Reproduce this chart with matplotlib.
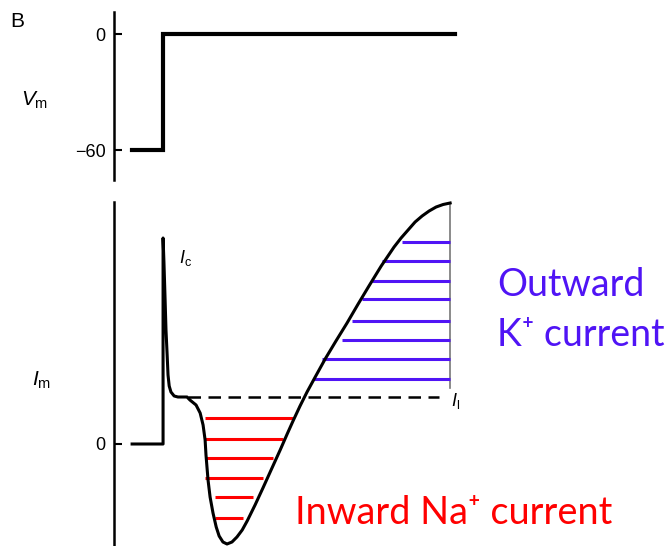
import matplotlib
matplotlib.use("Agg")
import matplotlib.pyplot as plt

plt.rcParams['font.family'] = ['Liberation Sans', 'DejaVu Sans']
plt.rcParams['mathtext.fontset'] = 'custom'
plt.rcParams['mathtext.rm'] = 'Liberation Sans'
plt.rcParams['mathtext.it'] = 'Liberation Sans:italic'

# voltage step (ms, mV)
v_time = [-1.06, 0.0, 0.0, 10.0]
v_mem = [-60, -60, 0, 0]

# membrane current (ms, arbitrary units)
i_time = [-1.06, 0.0, 0.0, 0.03, 0.07, 0.10, 0.14, 0.17, 0.21, 0.27, 0.38, 0.51,
          0.82, 0.92, 1.13, 1.27, 1.37, 1.44, 1.47, 1.54, 1.61, 1.71, 1.82, 1.92,
          2.05, 2.19, 2.36, 2.53, 2.71, 2.88, 3.15, 3.42, 3.73, 4.01, 4.25, 4.45,
          4.69, 4.93, 5.21, 5.55, 5.92, 6.30, 6.68, 7.05, 7.47, 7.91, 8.15, 8.39,
          8.63, 8.87, 9.11, 9.35, 9.59, 9.83]
i_mem = [0.0, 0.0, 20.6, 18.2, 14.4, 11.4, 8.9, 6.9, 5.8, 5.2, 4.8, 4.7,
         4.7, 4.4, 3.9, 3.1, 1.9, 0.4, -1.1, -3.6, -5.3, -6.9, -8.3, -9.2,
         -9.8, -10.0, -9.8, -9.3, -8.6, -7.7, -6.1, -4.4, -2.4, -0.6, 1.0, 2.3,
         3.8, 5.2, 6.7, 8.5, 10.3, 12.1, 14.0, 15.8, 17.8, 19.7, 20.6, 21.4,
         22.2, 22.8, 23.3, 23.7, 23.95, 24.1]

i_leak = 4.7
leak_start, leak_end = 0.85, 9.45

# inward Na+ hatching
na_level = [2.6, 0.5, -1.4, -3.4, -5.3, -7.4]
na_start = [1.44, 1.44, 1.44, 1.44, 1.78, 1.78]
na_end = [4.45, 4.11, 3.77, 3.42, 3.08, 2.74]

# outward K+ hatching
k_level = [20.2, 18.3, 16.3, 14.5, 12.3, 10.4, 8.5, 6.5]
k_start = [8.18, 7.50, 7.16, 6.82, 6.47, 6.13, 5.45, 5.14]
k_end = 9.83

W, H = 668, 546
def px_rect(l, t, r, b):
    return [l / W, 1 - b / H, (r - l) / W, (b - t) / H]

fig = plt.figure(figsize=(W / 100, H / 100), dpi=100)
ax_v = fig.add_axes(px_rect(114, 12, 668, 180))
ax_i = fig.add_axes(px_rect(114, 202, 668, 545))

blue = '#5014F5'
red = '#FF0000'

ax_v.plot(v_time, v_mem, color='black', lw=3.0, solid_joinstyle='miter')
ax_v.set_xlim(-1.68, 17.29)
ax_v.set_ylim(-75.5, 11.4)
ax_v.set_yticks([-60, 0])

ax_i.plot(i_time, i_mem, color='black', lw=2.2, clip_on=False, zorder=4,
          solid_joinstyle='round')
ax_i.plot([leak_start, leak_end], [i_leak, i_leak], color='black', lw=1.8,
          dashes=(5, 3))
ax_i.plot([k_end, k_end], [i_mem[-1], 5.6], color='#777777', lw=1.2)
for lv, s, e in zip(na_level, na_start, na_end):
    ax_i.plot([s, e], [lv, lv], color=red, lw=2.2, solid_capstyle='butt')
for lv, s in zip(k_level, k_start):
    ax_i.plot([s, k_end], [lv, lv], color=blue, lw=2.2, solid_capstyle='butt')
ax_i.set_xlim(-1.68, 17.29)
ax_i.set_ylim(-10.1, 24.2)
ax_i.set_yticks([0])

for ax in (ax_v, ax_i):
    for side in ('top', 'right', 'bottom'):
        ax.spines[side].set_visible(False)
    ax.spines['left'].set_linewidth(1.8)
    ax.set_xticks([])
    ax.patch.set_alpha(0)
    ax.tick_params(axis='y', direction='in', length=6, width=1.5,
                   labelsize=13, pad=6)

ax_i.text(0.55, 18.6, r'$I_\mathrm{c}$', fontsize=13, va='center', ha='left')
ax_i.text(9.85, 4.3, r'$I_\mathrm{l}$', fontsize=13, va='center', ha='left')

big = ['Lato', 'Noto Sans']
ax_i.text(11.44, 14.8, 'Outward', color=blue, fontsize=27, family=big,
          va='baseline', ha='left')
ax_i.text(11.44, 9.8, 'K\u207a current', color=blue, fontsize=27, family=big,
          va='baseline', ha='left')
ax_i.text(4.52, -8.0, 'Inward Na\u207a current', color=red, fontsize=27.3,
          family=big, va='baseline', ha='left')

fig.text(10 / W, 1 - 12 / H, 'B', fontsize=15, va='top', ha='left')
fig.text(35 / W, 1 - 100 / H, r'$V_\mathrm{m}$', fontsize=15, va='center',
         ha='center')
fig.text(42 / W, 1 - 380 / H, r'$I_\mathrm{m}$', fontsize=15, va='center',
         ha='center')

fig.savefig('out.png', dpi=100)
